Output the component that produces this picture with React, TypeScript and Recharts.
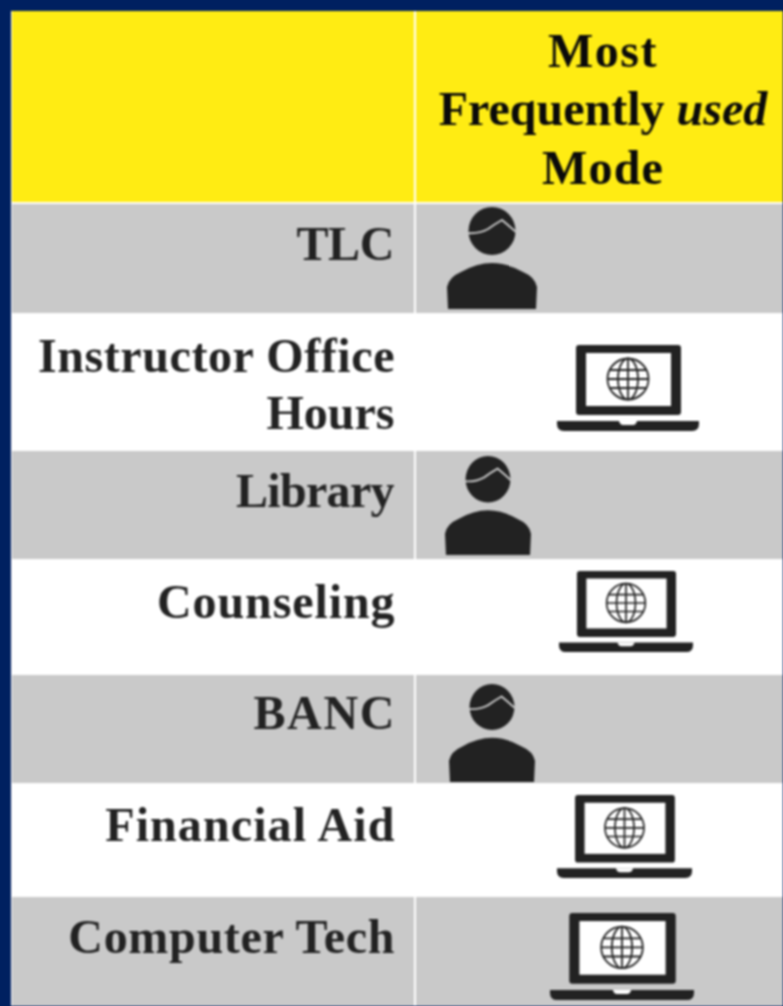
import { ScatterChart, Scatter, XAxis, YAxis, ReferenceArea } from 'recharts';

const WIDTH = 783;
const HEIGHT = 1006;

// table content
const rowNames = ['TLC', 'Instructor Office\nHours', 'Library', 'Counseling', 'BANC', 'Financial Aid', 'Computer Tech'];
const rowModes = ['person', 'online', 'person', 'online', 'person', 'online', 'online'];
const headerLines = ['Most', 'Frequently used', 'Mode'];

// table geometry, in the chart's axis units
const TABLE_ORIGIN = 11;
const rowSpans = [193, 111, 136, 110, 114, 110, 112, 111];
const ROW_GAP = 2;
const COLUMN_SPLIT = 414;
const LABEL_RIGHT = 394.5;
const HEADER_CENTER = 603;
const headerBaselines = [67, 125, 184];
const headerTracking = [1.5, 0, 1.2];
const labelBaselines = [260, 372, 507, 618, 729, 841, 953];
const labelTracking = [-0.3, 0.6, -0.7, 0.9, 1.7, 1.1, 0.7];
const LINE_HEIGHT = 57;
const iconCenterX = [492, 628, 488, 626, 492, 624.5, 622];
const iconCenterY = [258, 388, 505.5, 611.5, 733, 836.5, 956.5];
const iconWidths = [90, 142, 86, 134, 86, 135, 144];
const iconHeights = [102, 86, 99, 81, 98, 83, 87];

const NAVY = '#002060';
const YELLOW = '#FFEC13';
const GREY = '#C9C9C9';
const INK = '#222222';
const FONT = '"Liberation Serif", serif';
const FONT_SIZE = 48;

const rowBands = rowSpans.map((span, i) => {
  const top = TABLE_ORIGIN + rowSpans.slice(0, i).reduce((a, b) => a + b, 0);
  return { top, bottom: top + span - ROW_GAP, fill: i === 0 ? YELLOW : i % 2 === 1 ? GREY : '#FFFFFF' };
});

const iconData = rowModes.map((mode, i) => ({
  mode,
  x: iconCenterX[i],
  y: iconCenterY[i],
  w: iconWidths[i],
  h: iconHeights[i],
  bg: i % 2 === 0 ? GREY : '#FFFFFF',
}));

// letter spacing also pads the last glyph, so push the anchor out by the same amount
const labelData = rowNames.flatMap((name, i) =>
  name.split('\n').map((line, j) => {
    const tracking = j === 0 ? labelTracking[i] : 0;
    return { line, x: LABEL_RIGHT + tracking, y: labelBaselines[i] + j * LINE_HEIGHT, tracking };
  }),
);

const headerData = headerLines.map((line, i) => ({
  line,
  x: HEADER_CENTER,
  y: headerBaselines[i],
  tracking: headerTracking[i],
}));

const PersonIcon = ({ cx, cy, payload }: any) => (
  <g transform={`translate(${cx - payload.w / 2} ${cy - payload.h / 2}) scale(${payload.w / 90} ${payload.h / 102})`}>
    <ellipse cx={45} cy={24} rx={23.5} ry={24} fill={INK} />
    <path d="M20 26 Q32 27 41 22 Q48 17 55 13 Q61 18 69 25" fill="none" stroke={payload.bg} strokeWidth={2} />
    <path d="M1 102 L0 80 Q2 70 14 65 Q30 56 45 56 Q60 56 76 65 Q88 70 90 80 L89 102 Z" fill={INK} />
  </g>
);

const LaptopIcon = ({ cx, cy, payload }: any) => (
  <g transform={`translate(${cx - payload.w / 2} ${cy - payload.h / 2}) scale(${payload.w / 142} ${payload.h / 86})`}>
    <rect x={19} y={0} width={105} height={70} rx={3} fill={INK} />
    <rect x={29} y={8} width={85} height={53} fill="#FFFFFF" />
    <path d="M0 76 H142 V79 Q142 86 135 86 H7 Q0 86 0 79 Z" fill={INK} />
    <path d="M62 76 H80 Q79 80 76 80 H66 Q63 80 62 76 Z" fill="#FFFFFF" />
    <g fill="none" stroke={INK} strokeWidth={1.8}>
      <circle cx={71} cy={34} r={20.5} />
      <ellipse cx={71} cy={34} rx={10} ry={20.5} />
      <path d="M71 13.5 V54.5 M50.5 34 H91.5 M53 25 H89 M53 43 H89" />
    </g>
  </g>
);

const ModeIcon = (props: any) =>
  props.payload.mode === 'person' ? <PersonIcon {...props} /> : <LaptopIcon {...props} />;

const RowLabel = ({ cx, cy, payload }: any) => (
  <text
    x={cx}
    y={cy}
    textAnchor="end"
    fontFamily={FONT}
    fontSize={FONT_SIZE}
    fontWeight={700}
    letterSpacing={payload.tracking}
    fill={INK}
  >
    {payload.line}
  </text>
);

const HeaderLine = ({ cx, cy, payload }: any) => {
  const [plain, italic] = payload.line.split(' ');
  return (
    <text
      x={cx}
      y={cy}
      textAnchor="middle"
      fontFamily={FONT}
      fontSize={FONT_SIZE}
      fontWeight={700}
      letterSpacing={payload.tracking}
      fill="#0A0A0A"
    >
      {plain}
      {italic && <tspan fontStyle="italic"> {italic}</tspan>}
    </text>
  );
};

export default function App() {
  return (
    <div style={{ position: 'absolute', left: 0, top: 0, width: WIDTH, height: HEIGHT, background: NAVY, overflow: 'hidden' }}>
      <div style={{ filter: 'blur(1px)' }}>
        <ScatterChart width={WIDTH} height={HEIGHT} margin={{ top: 0, right: 0, bottom: 0, left: 0 }}>
          <XAxis type="number" dataKey="x" domain={[0, WIDTH]} hide />
          <YAxis type="number" dataKey="y" domain={[0, HEIGHT]} reversed hide />

          {/* white sheet, the gaps between bands show through as the rules */}
          <ReferenceArea x1={TABLE_ORIGIN} x2={WIDTH} y1={TABLE_ORIGIN} y2={HEIGHT} fill="#FFFFFF" fillOpacity={1} stroke="none" />
          {rowBands.flatMap((b, i) => [
            <ReferenceArea key={`l${i}`} x1={TABLE_ORIGIN + 1} x2={COLUMN_SPLIT} y1={b.top} y2={b.bottom} fill={b.fill} fillOpacity={1} stroke="none" />,
            <ReferenceArea key={`r${i}`} x1={COLUMN_SPLIT + 2} x2={WIDTH} y1={b.top} y2={b.bottom} fill={b.fill} fillOpacity={1} stroke="none" />,
          ])}

          <Scatter data={headerData} shape={HeaderLine} isAnimationActive={false} />
          <Scatter data={labelData} shape={RowLabel} isAnimationActive={false} />
          <Scatter data={iconData} shape={ModeIcon} isAnimationActive={false} />
        </ScatterChart>
      </div>
    </div>
  );
}
